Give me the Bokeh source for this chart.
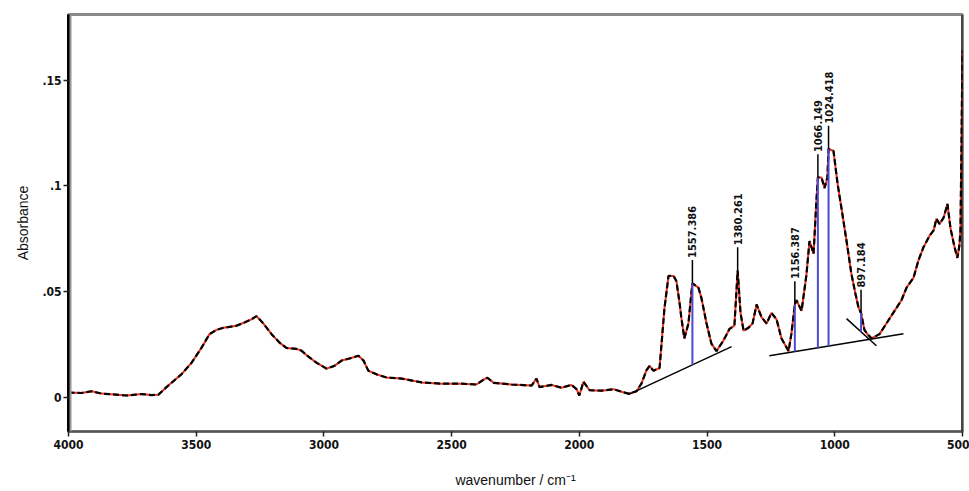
import numpy as np
from bokeh.plotting import figure
from bokeh.models import Range1d, FixedTicker, Span
from bokeh.embed import file_html
from bokeh.resources import INLINE

# IR absorbance spectrum (wavenumber in cm-1, absorbance)
wavenumber = [
    4000, 3949, 3910, 3871, 3812, 3773, 3714, 3675, 3648, 3616, 3597, 3558,
    3518, 3479, 3448, 3421, 3393, 3342, 3311, 3284, 3264, 3237, 3205, 3174,
    3147, 3107, 3088, 3057, 3029, 2990, 2959, 2931, 2900, 2865, 2845, 2826,
    2794, 2755, 2696, 2618, 2540, 2461, 2403, 2375, 2360, 2336, 2266, 2187,
    2168, 2156, 2109, 2070, 2031, 2011, 2000, 1984, 1960, 1913, 1866, 1835,
    1808, 1776, 1757, 1737, 1725, 1710, 1686, 1667, 1651, 1631, 1620, 1608,
    1601, 1589, 1573, 1561, 1557.386, 1534, 1522, 1502, 1483, 1463, 1436,
    1412, 1393, 1380.261, 1369, 1357, 1338, 1322, 1306, 1287, 1267, 1248,
    1228, 1209, 1181, 1170, 1156.387, 1150, 1130, 1111, 1099, 1083, 1072,
    1066.149, 1052, 1040, 1029, 1024.418, 1005, 989, 974, 954, 935, 919,
    907, 897.184, 884, 872, 856, 825, 798, 766, 739, 719, 692, 672, 653,
    629, 613, 602, 590, 574, 559, 547, 531, 520, 512, 508, 504, 500,
]
absorbance = [
    0.0024, 0.0022, 0.0030, 0.0019, 0.0014, 0.0010, 0.0017, 0.0012, 0.0014,
    0.0050, 0.0070, 0.0110, 0.0165, 0.0236, 0.0300, 0.0320, 0.0330, 0.0340,
    0.0355, 0.0370, 0.0385, 0.0350, 0.0300, 0.0260, 0.0235, 0.0230, 0.0222,
    0.0190, 0.0165, 0.0137, 0.0150, 0.0175, 0.0185, 0.0198, 0.0175, 0.0127,
    0.0110, 0.0095, 0.0090, 0.0072, 0.0066, 0.0066, 0.0062, 0.0085, 0.0094,
    0.0070, 0.0062, 0.0057, 0.0090, 0.0050, 0.0060, 0.0047, 0.0060, 0.0040,
    0.0010, 0.0075, 0.0035, 0.0033, 0.0040, 0.0028, 0.0019, 0.0030, 0.0066,
    0.0130, 0.0150, 0.0127, 0.0140, 0.0420, 0.0575, 0.0575, 0.0550, 0.0450,
    0.0380, 0.0280, 0.0350, 0.0500, 0.0540, 0.0520, 0.0470, 0.0350, 0.0255,
    0.0220, 0.0270, 0.0325, 0.0340, 0.0600, 0.0400, 0.0316, 0.0330, 0.0350,
    0.0440, 0.0380, 0.0350, 0.0400, 0.0370, 0.0280, 0.0220, 0.0300, 0.0440,
    0.0460, 0.0410, 0.0580, 0.0740, 0.0680, 0.0930, 0.1040, 0.1040, 0.0990,
    0.1040, 0.1175, 0.1165, 0.1010, 0.0896, 0.0740, 0.0585, 0.0490, 0.0425,
    0.0400, 0.0320, 0.0300, 0.0280, 0.0300, 0.0350, 0.0410, 0.0460, 0.0520,
    0.0566, 0.0650, 0.0710, 0.0765, 0.0790, 0.0845, 0.0820, 0.0850, 0.0915,
    0.0800, 0.0710, 0.0660, 0.0720, 0.0790, 0.1200, 0.1640,
]

# Labelled peak positions and the baseline each peak area is measured from
peak_wn = [1557.386, 1380.261, 1156.387, 1066.149, 1024.418, 897.184]
peak_baseline = [0, None, 1, 1, 1, 2]

# Straight baselines drawn under the bands: (wn start, abs start, wn end, abs end)
base_wn0 = [1808, 1256, 954]
base_abs0 = [0.0014, 0.0198, 0.0373]
base_wn1 = [1404, 731, 837]
base_abs1 = [0.0241, 0.0302, 0.0245]

x_ticks = [4000, 3500, 3000, 2500, 2000, 1500, 1000, 500]
y_ticks = [0, 0.05, 0.1, 0.15]
y_tick_labels = {0: "0", 0.05: ".05", 0.1: ".1", 0.15: ".15"}

TICK_FONT = "'Liberation Sans Narrow', 'DejaVu Sans Condensed', 'Liberation Sans', sans-serif"
TITLE_FONT = "'Liberation Sans', Arial, sans-serif"

p = figure(
    width=969, height=491,
    x_range=Range1d(4000, 500), y_range=Range1d(-0.016, 0.181),
    output_backend="svg", toolbar_location=None,
    min_border_left=68, min_border_right=7, min_border_top=14, min_border_bottom=60,
)
p.grid.visible = False
p.background_fill_color = "white"
p.border_fill_color = "white"
p.outline_line_color = "#8a8a8a"
p.outline_line_width = 3

# axes
p.xaxis.ticker = FixedTicker(ticks=x_ticks)
p.yaxis.ticker = FixedTicker(ticks=y_ticks)
p.yaxis.major_label_overrides = y_tick_labels
for ax in (p.xaxis[0], p.yaxis[0]):
    ax.minor_tick_line_color = None
    ax.major_tick_in = 0
    ax.major_tick_out = 5
    ax.major_tick_line_color = "#222222"
    ax.major_tick_line_width = 1.5
    ax.major_label_text_font = TICK_FONT
    ax.major_label_text_font_size = "12px"
    ax.major_label_text_font_style = "bold"
    ax.major_label_text_color = "#111111"
    ax.axis_label_text_font = TITLE_FONT
    ax.axis_label_text_font_size = "14px"
    ax.axis_label_text_font_style = "normal"
    ax.axis_label_text_color = "#111111"
p.yaxis.axis_line_color = "black"
p.yaxis.axis_line_width = 3
p.xaxis.axis_line_color = "#555555"
p.xaxis.axis_line_width = 2
p.xaxis.axis_label = "wavenumber / cm\u207b\u00b9"
p.yaxis.axis_label = "Absorbance"
p.xaxis.major_label_standoff = 3
p.yaxis.major_label_standoff = 2
p.xaxis.axis_label_standoff = 20
p.yaxis.axis_label_standoff = 8

# frame shading next to the left axis and the dark right edge
p.add_layout(Span(location=3992, dimension="height", line_color="#9a9a9a", line_width=2))
p.add_layout(Span(location=500, dimension="height", line_color="black", line_width=2))

# spectrum: red trace overdrawn by black dashes
p.line(wavenumber, absorbance, line_color="#e8321e", line_width=2)
p.line(wavenumber, absorbance, line_color="black", line_width=2.2, line_dash="6 3")

# baselines
p.segment(base_wn0, base_abs0, base_wn1, base_abs1, line_color="black", line_width=1.5)

# peak markers: blue drop lines from baseline to trace, leader lines and labels
wn_arr = np.array(wavenumber)[::-1]
ab_arr = np.array(absorbance)[::-1]
peak_abs = [float(np.interp(w, wn_arr, ab_arr)) for w in peak_wn]

bx, b0, b1 = [], [], []
for w, a, bi in zip(peak_wn, peak_abs, peak_baseline):
    if bi is None:
        continue
    t = (w - base_wn0[bi]) / (base_wn1[bi] - base_wn0[bi])
    base = base_abs0[bi] + t * (base_abs1[bi] - base_abs0[bi])
    bx.append(w)
    b0.append(base)
    b1.append(a)
p.segment(bx, b0, bx, b1, line_color="#4a4ad0", line_width=2)

lift = 0.011
p.segment(peak_wn, peak_abs, peak_wn, [a + lift for a in peak_abs],
          line_color="black", line_width=1.5)
p.text(
    x=peak_wn, y=[a + lift + 0.001 for a in peak_abs],
    text=[f"{w:.3f}" for w in peak_wn],
    angle=np.pi / 2, text_align="left", text_baseline="middle",
    text_font_size="11px", text_font_style="bold", text_color="#111111",
    text_font={"value": TICK_FONT},
)

open("out.html", "w").write(file_html(p, INLINE))
